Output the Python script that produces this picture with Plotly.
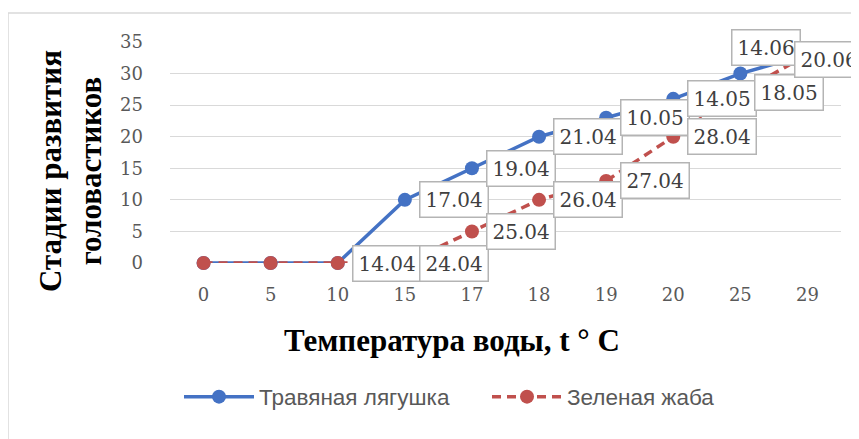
import plotly.graph_objects as go

temps = ["0", "5", "10", "15", "17", "18", "19", "20", "25", "29"]
frog = [0, 0, 0, 10, 15, 20, 23, 26, 30, 33]
toad = [0, 0, 0, 0, 5, 10, 13, 20, 27, 33]
frog_labels = [None, None, "14.04", "17.04", "19.04", "21.04", "10.05", "14.05", None, "14.06"]
toad_labels = [None, None, None, "24.04", "25.04", "26.04", "27.04", "28.04", "18.05", "20.06"]
frog_name = "Травяная лягушка"
toad_name = "Зеленая жаба"
y_title = "Стадии развития<br>головастиков"
x_title = "Температура воды, t ° C"

BLUE = "#4472C4"
RED = "#C0504D"

# layout geometry (page pixels, page has an 8px body margin)
OFF = 8
L, T, W, H = 170 - OFF, 42 - OFF, 671, 221
FW, FH = 859, 439

def px_x(p):
    return (p - OFF - L) / W

def px_y(p):
    return (T + H - (p - OFF)) / H

fig = go.Figure()
fig.add_trace(go.Scatter(x=temps, y=frog, name=frog_name, mode="lines+markers",
                         line=dict(color=BLUE, width=3.5),
                         marker=dict(size=14, color=BLUE), cliponaxis=False))
fig.add_trace(go.Scatter(x=temps, y=toad, name=toad_name, mode="lines+markers",
                         line=dict(color=RED, width=3.5, dash="9px,6px"),
                         marker=dict(size=14, color=RED), cliponaxis=False))

# label offsets (pixels) for manually moved labels
shifts = {("f", 9): (-76, 7), ("t", 9): (-13, -5)}

def add_labels(ys, labels, key):
    for i, (yv, lab) in enumerate(zip(ys, labels)):
        if lab is None:
            continue
        dx, dy = shifts.get((key, i), (14, 0))
        fig.add_annotation(x=i, y=yv, text=lab, showarrow=False,
                           xanchor="left", yanchor="middle", xshift=dx, yshift=dy,
                           font=dict(family="DejaVu Serif", size=20, color="#404040"),
                           bgcolor="white", bordercolor="#B4B4B4", borderwidth=1.5,
                           borderpad=5)

add_labels(frog, frog_labels, "f")
add_labels(toad, toad_labels, "t")

# axis titles
fig.add_annotation(xref="paper", yref="paper", x=px_x(71), y=px_y(171),
                   xanchor="center", yanchor="middle",
                   text=y_title, textangle=-90, showarrow=False,
                   font=dict(family="Liberation Serif", size=31, color="black", weight="bold"))
fig.add_annotation(xref="paper", yref="paper", x=px_x(452), y=px_y(340),
                   xanchor="center", yanchor="middle",
                   text=x_title, showarrow=False,
                   font=dict(family="Liberation Serif", size=31, color="black", weight="bold"))

# outer chart border
fig.add_shape(type="rect", xref="paper", yref="paper",
              x0=px_x(8), x1=px_x(900), y0=px_y(480), y1=px_y(13),
              line=dict(color="#D9D9D9", width=1.5), fillcolor="rgba(0,0,0,0)", layer="below")

fig.update_layout(
    width=FW, height=FH,
    margin=dict(l=L, r=FW - L - W, t=T, b=FH - T - H, autoexpand=False),
    paper_bgcolor="white", plot_bgcolor="white",
    showlegend=True,
    legend=dict(orientation="h", x=px_x(179), xanchor="left", y=px_y(397), yanchor="middle",
                font=dict(family="Liberation Sans", size=22.5, color="#595959"),
                itemwidth=70, tracegroupgap=0, entrywidth=223, entrywidthmode="pixels"),
    xaxis=dict(type="category", range=[-0.5, len(temps) - 0.5], autorange=False,
               showgrid=False, zeroline=False, showline=False, automargin=False,
               ticks="", tickfont=dict(family="DejaVu Serif", size=18, color="#595959"),
               ticklabelstandoff=19),
    yaxis=dict(range=[0, 35], autorange=False, dtick=5, showgrid=True, gridcolor="#D9D9D9", gridwidth=1,
               zeroline=False, showline=False, ticks="", automargin=False,
               tickfont=dict(family="DejaVu Serif", size=18, color="#595959"),
               ticklabelstandoff=26),
)

fig.write_html("out.html")
